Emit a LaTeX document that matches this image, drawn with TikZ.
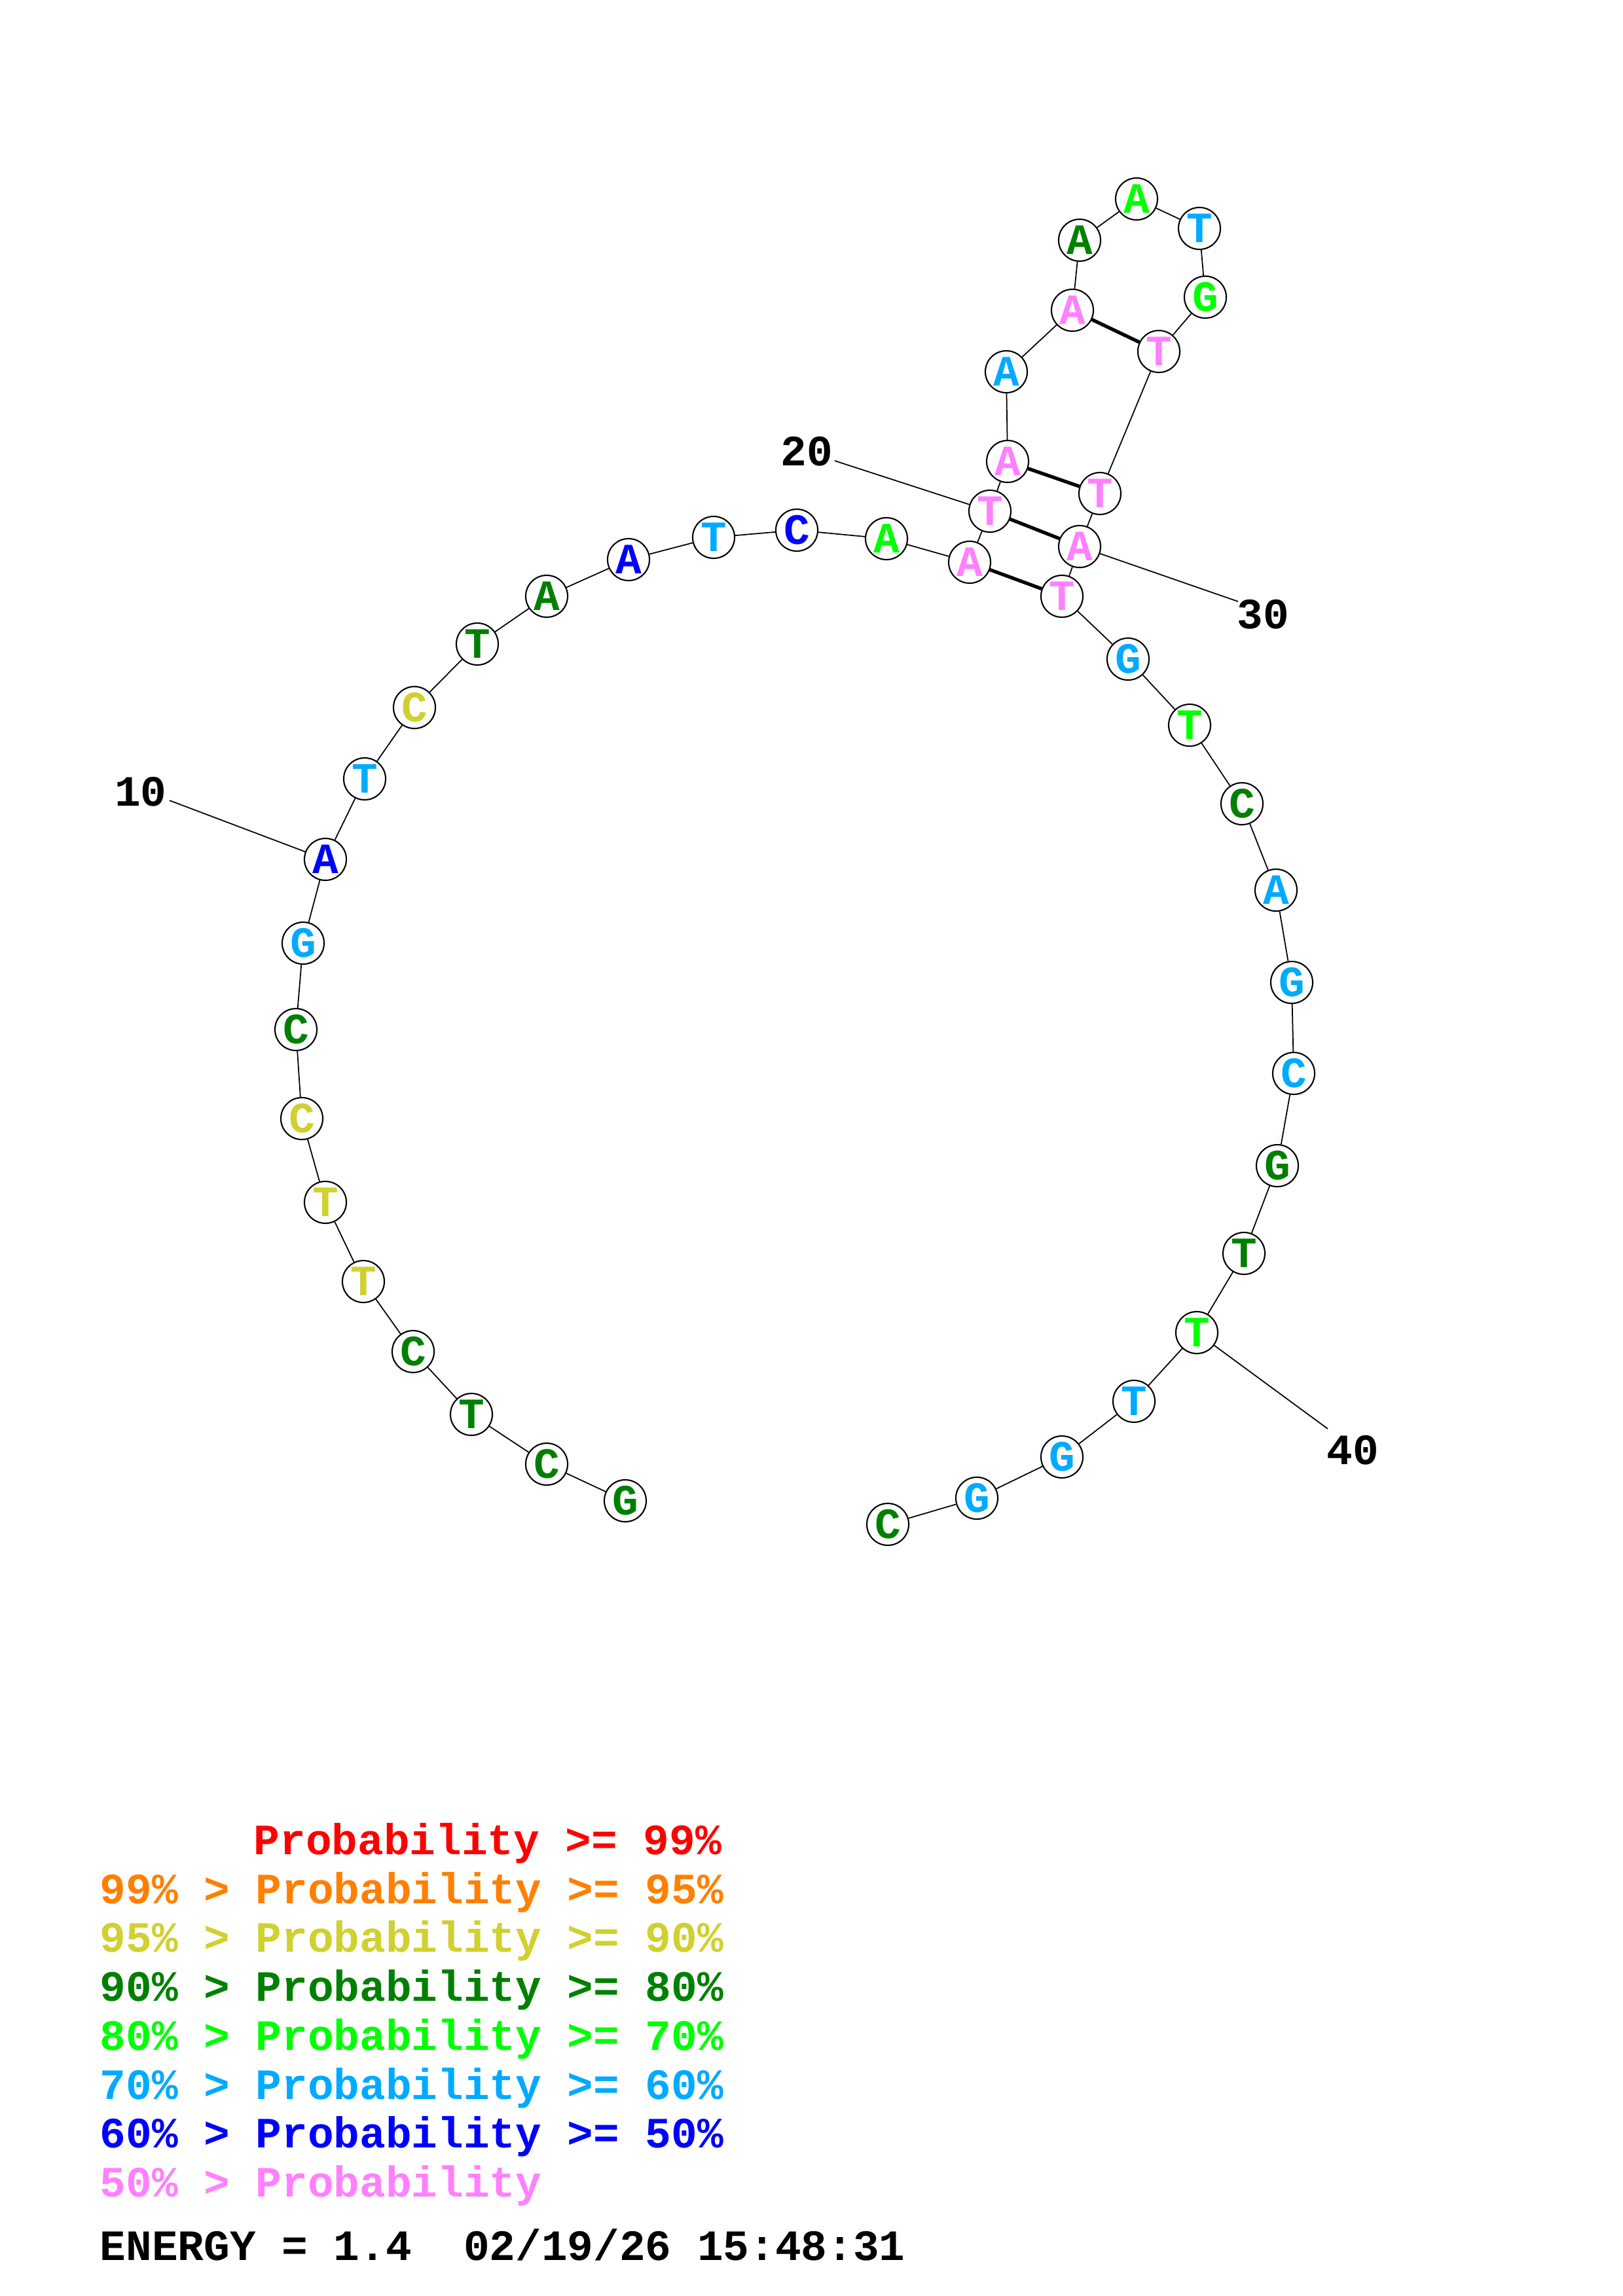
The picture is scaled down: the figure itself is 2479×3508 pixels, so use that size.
\documentclass[tikz,border=0pt]{standalone}
\usepackage{fontspec}
\setmainfont{Liberation Mono}
\usepackage{xcolor}
\usepackage{tikz}

\definecolor{pred}{HTML}{FF0000}
\definecolor{porange}{HTML}{FF8000}
\definecolor{pyellow}{HTML}{D0D030}
\definecolor{pdkgreen}{HTML}{008000}
\definecolor{pgreen}{HTML}{00FF00}
\definecolor{pltblue}{HTML}{00AAFF}
\definecolor{pblue}{HTML}{0000FF}
\definecolor{ppink}{HTML}{FF80FF}

\begin{document}
\begin{tikzpicture}[x=0.01cm,y=-0.01cm,line width=0.5pt,
 base/.style={circle,draw,line width=0.6pt,fill=white,minimum size=0.64cm,inner sep=0pt,
   font=\fontsize{18.8}{20}\selectfont\bfseries},
 pair/.style={line width=1.5pt},
 num/.style={font=\fontsize{18.8}{20}\selectfont\bfseries},
 leg/.style={anchor=base west,inner sep=0pt,font=\fontsize{18.8}{20}\selectfont\bfseries}]
 \useasboundingbox (0,0) rectangle (2479,3508);

 % bases
 \node[base,text=pdkgreen] (n1) at (955,2293) {G};
 \node[base,text=pdkgreen] (n2) at (835,2237) {C};
 \node[base,text=pdkgreen] (n3) at (720,2161) {T};
 \node[base,text=pdkgreen] (n4) at (631,2065) {C};
 \node[base,text=pyellow] (n5) at (555,1958) {T};
 \node[base,text=pyellow] (n6) at (497,1837) {T};
 \node[base,text=pyellow] (n7) at (461,1709) {C};
 \node[base,text=pdkgreen] (n8) at (452,1573) {C};
 \node[base,text=pltblue] (n9) at (463,1441) {G};
 \node[base,text=pblue] (n10) at (497,1313) {A};
 \node[base,text=pltblue] (n11) at (557,1190) {T};
 \node[base,text=pyellow] (n12) at (633,1081) {C};
 \node[base,text=pdkgreen] (n13) at (729,984) {T};
 \node[base,text=pdkgreen] (n14) at (835,911) {A};
 \node[base,text=pblue] (n15) at (960,855) {A};
 \node[base,text=pltblue] (n16) at (1090,821) {T};
 \node[base,text=pblue] (n17) at (1217,810) {C};
 \node[base,text=pgreen] (n18) at (1354,823) {A};
 \node[base,text=ppink] (n19) at (1481,859) {A};
 \node[base,text=ppink] (n20) at (1512,781) {T};
 \node[base,text=ppink] (n21) at (1539,705) {A};
 \node[base,text=pltblue] (n22) at (1537,568) {A};
 \node[base,text=ppink] (n23) at (1638,474) {A};
 \node[base,text=pdkgreen] (n24) at (1649,367) {A};
 \node[base,text=pgreen] (n25) at (1736,304) {A};
 \node[base,text=pltblue] (n26) at (1832,349) {T};
 \node[base,text=pgreen] (n27) at (1841,454) {G};
 \node[base,text=ppink] (n28) at (1770,537) {T};
 \node[base,text=ppink] (n29) at (1680,754) {T};
 \node[base,text=ppink] (n30) at (1649,835) {A};
 \node[base,text=ppink] (n31) at (1622,911) {T};
 \node[base,text=pltblue] (n32) at (1723,1007) {G};
 \node[base,text=pgreen] (n33) at (1817,1108) {T};
 \node[base,text=pdkgreen] (n34) at (1897,1228) {C};
 \node[base,text=pltblue] (n35) at (1949,1360) {A};
 \node[base,text=pltblue] (n36) at (1973,1501) {G};
 \node[base,text=pltblue] (n37) at (1976,1640) {C};
 \node[base,text=pdkgreen] (n38) at (1951,1781) {G};
 \node[base,text=pdkgreen] (n39) at (1900,1915) {T};
 \node[base,text=pgreen] (n40) at (1828,2036) {T};
 \node[base,text=pltblue] (n41) at (1732,2141) {T};
 \node[base,text=pltblue] (n42) at (1622,2226) {G};
 \node[base,text=pltblue] (n43) at (1492,2289) {G};
 \node[base,text=pdkgreen] (n44) at (1356,2329) {C};

 % backbone
 \draw (n1) -- (n2) -- (n3) -- (n4) -- (n5) -- (n6) -- (n7) -- (n8) -- (n9) -- (n10)
  -- (n11) -- (n12) -- (n13) -- (n14) -- (n15) -- (n16) -- (n17) -- (n18) -- (n19) -- (n20)
  -- (n21) -- (n22) -- (n23) -- (n24) -- (n25) -- (n26) -- (n27) -- (n28) -- (n29) -- (n30)
  -- (n31) -- (n32) -- (n33) -- (n34) -- (n35) -- (n36) -- (n37) -- (n38) -- (n39) -- (n40)
  -- (n41) -- (n42) -- (n43) -- (n44);

 % pairs
 \draw[pair] (n19) -- (n31);
 \draw[pair] (n20) -- (n30);
 \draw[pair] (n21) -- (n29);
 \draw[pair] (n23) -- (n28);

 % position numbers
 \coordinate (t10) at (259,1223);
 \coordinate (t20) at (1275,704);
 \coordinate (t30) at (1891,919);
 \coordinate (t40) at (2028,2183);
 \node[num] (m10) at (215,1210) {10};
 \node[num] (m20) at (1232,690) {20};
 \node[num] (m30) at (1929,939) {30};
 \node[num] (m40) at (2066,2216) {40};
 \draw (n10) -- (t10);
 \draw (n20) -- (t20);
 \draw (n30) -- (t30);
 \draw (n40) -- (t40);

 % legend
 \node[leg,text=pred] (g1) at (387,2833) {Probability >= 99\%};
 \node[leg,text=porange] (g2) at (152,2908) {99\% > Probability >= 95\%};
 \node[leg,text=pyellow] (g3) at (152,2982) {95\% > Probability >= 90\%};
 \node[leg,text=pdkgreen] (g4) at (152,3057) {90\% > Probability >= 80\%};
 \node[leg,text=pgreen] (g5) at (152,3132) {80\% > Probability >= 70\%};
 \node[leg,text=pltblue] (g6) at (152,3207) {70\% > Probability >= 60\%};
 \node[leg,text=pblue] (g7) at (152,3281) {60\% > Probability >= 50\%};
 \node[leg,text=ppink] (g8) at (152,3356) {50\% > Probability};
 \node[leg] (energy) at (152,3453) {ENERGY = 1.4\ \ 02/19/26 15:48:31};
\end{tikzpicture}
\end{document}
